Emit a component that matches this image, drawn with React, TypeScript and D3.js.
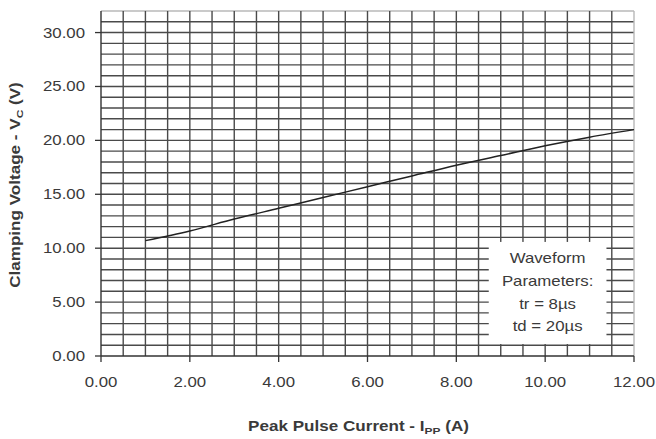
import React from "react";
import * as d3 from "d3";

// ---- data ----
const currentA = [1, 2, 3, 4, 5, 6, 7, 8, 9, 10, 11, 12];
const clampV = [10.7, 11.6, 12.7, 13.7, 14.7, 15.7, 16.7, 17.7, 18.6, 19.5, 20.3, 21.0];
const xTicks = [0, 2, 4, 6, 8, 10, 12];
const yTicks = [0, 5, 10, 15, 20, 25, 30];
const legendLines = ["Waveform", "Parameters:", "tr = 8µs", "td = 20µs"];

const W = 656;
const H = 439;
const FONT = "'Liberation Sans', Arial, sans-serif";
const SX = 1.2;

export default function App() {
  const x = d3.scaleLinear().domain([0, 12]).range([101, 634]);
  const y = d3.scaleLinear().domain([0, 32]).range([356, 11]);

  const vGrid = d3.range(0.5, 12.01, 0.5);
  const hGrid = d3.range(1, 32.01, 1);

  const line = d3
    .line<number>()
    .x((_, i) => x(currentA[i]))
    .y((v) => y(v))
    .curve(d3.curveMonotoneX);

  const gridColor = "#4a4a4a";
  const textColor = "#3a3a3a";

  // legend box (in data units)
  const bx0 = x(8.73), bx1 = x(11.38), by0 = y(10.58), by1 = y(1.11);
  const lcx = (bx0 + bx1) / 2;

  return (
    <svg
      width={W}
      height={H}
      style={{ position: "absolute", left: 0, top: 0, background: "#fff" }}
      fontFamily={FONT}
    >
      <rect width={W} height={H} fill="#fff" />
      {/* grid */}
      {hGrid.map((v) => (
        <line
          key={"h" + v}
          x1={x(0)}
          x2={x(12)}
          y1={y(v)}
          y2={y(v)}
          stroke={v === 32 ? "#b8b8b8" : gridColor}
          strokeWidth={1.4}
        />
      ))}
      {vGrid.map((v) => (
        <line
          key={"v" + v}
          x1={x(v)}
          x2={x(v)}
          y1={y(0)}
          y2={y(32)}
          stroke={v === 12 ? "#b8b8b8" : gridColor}
          strokeWidth={1.4}
        />
      ))}
      {/* axes */}
      <line x1={x(0)} x2={x(0)} y1={y(0)} y2={y(32)} stroke="#333" strokeWidth={1.4} />
      <line x1={x(0)} x2={x(12)} y1={y(0)} y2={y(0)} stroke="#333" strokeWidth={1.4} />
      {yTicks.map((t) => (
        <g key={"yt" + t}>
          <line x1={x(0) - 6} x2={x(0)} y1={y(t)} y2={y(t)} stroke="#333" strokeWidth={1.3} />
          <text
            transform={`translate(85,${y(t) + 5}) scale(${SX},1)`}
            textAnchor="end"
            fontSize={14}
            fill={textColor}
          >
            {t.toFixed(2)}
          </text>
        </g>
      ))}
      {xTicks.map((t) => (
        <g key={"xt" + t}>
          <line x1={x(t)} x2={x(t)} y1={y(0)} y2={y(0) + 6} stroke="#333" strokeWidth={1.3} />
          <text
            transform={`translate(${x(t)},387) scale(${SX},1)`}
            textAnchor="middle"
            fontSize={14}
            fill={textColor}
          >
            {t.toFixed(2)}
          </text>
        </g>
      ))}
      {/* curve */}
      <path d={line(clampV) || ""} fill="none" stroke="#222" strokeWidth={1.5} />
      {/* legend box */}
      <rect x={bx0} y={by0} width={bx1 - bx0} height={by1 - by0} fill="#fff" />
      {legendLines.map((s, i) => (
        <text
          key={s}
          transform={`translate(${lcx},${263 + i * 22.8}) scale(${SX},1)`}
          textAnchor="middle"
          fontSize={14}
          fill={textColor}
        >
          {s}
        </text>
      ))}
      {/* axis titles */}
      <text
        transform={`translate(358.5,431) scale(1.22,1)`}
        textAnchor="middle"
        fontSize={14}
        fontWeight="bold"
        fill={textColor}
      >
        Peak Pulse Current - I
        <tspan fontSize={9.8} dy={3}>PP</tspan>
        <tspan dy={-3}> (A)</tspan>
      </text>
      <text
        transform={`translate(20,185) rotate(-90) scale(1.22,1)`}
        textAnchor="middle"
        fontSize={14}
        fontWeight="bold"
        fill={textColor}
      >
        Clamping Voltage - V
        <tspan fontSize={9.8} dy={3}>C</tspan>
        <tspan dy={-3}> (V)</tspan>
      </text>
    </svg>
  );
}
